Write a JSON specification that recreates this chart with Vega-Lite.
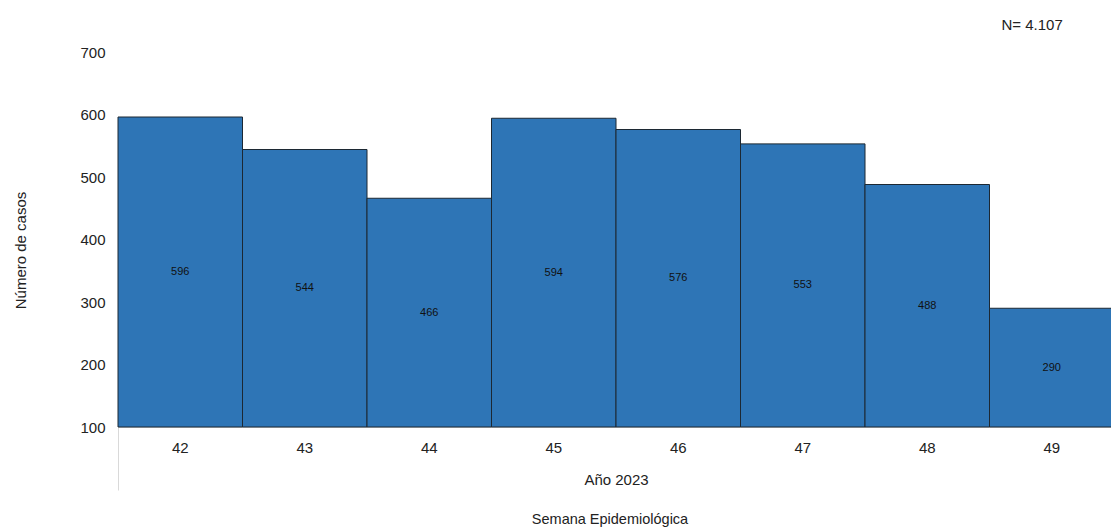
{
  "$schema": "https://vega.github.io/schema/vega-lite/v6.json",
  "autosize": "none",
  "padding": {"left": 118, "top": 52, "right": 0, "bottom": 102},
  "width": 996,
  "height": 375,
  "background": "white",
  "config": {
    "view": {"stroke": null},
    "font": "Liberation Sans",
    "axis": {"labelFont": "Liberation Sans", "titleFont": "Liberation Sans", "labelColor": "#222", "titleColor": "#222", "grid": false}
  },
  "title": {"text": "Semana Epidemiológica", "orient": "bottom", "anchor": "middle", "fontSize": 14.5, "fontWeight": "normal", "color": "#222", "font": "Liberation Sans", "offset": 22, "dx": -6},
  "data": {"values": [
    {"semana": "42", "casos": 596},
    {"semana": "43", "casos": 544},
    {"semana": "44", "casos": 466},
    {"semana": "45", "casos": 594},
    {"semana": "46", "casos": 576},
    {"semana": "47", "casos": 553},
    {"semana": "48", "casos": 488},
    {"semana": "49", "casos": 290}
  ]},
  "encoding": {
    "x": {"field": "semana", "type": "nominal", "scale": {"paddingInner": 0, "paddingOuter": 0},
      "axis": {"title": "Año 2023", "labelAngle": 0, "labelFontSize": 15, "titleFontSize": 15, "titleFontWeight": "normal", "labelPadding": -50, "titleY": 45, "titleBaseline": "top",
        "domain": true, "domainColor": "#d9d9d9", "ticks": true, "bandPosition": 0, "tickSize": 63,
        "tickColor": {"condition": {"test": "datum.value == '42'", "value": "#d9d9d9"}, "value": "transparent"}}}
  },
  "layer": [
    {
      "mark": {"type": "bar", "fill": "#2E75B6", "stroke": "#1c2833", "strokeWidth": 1},
      "encoding": {
        "y": {"field": "casos", "type": "quantitative", "scale": {"domain": [100, 700], "zero": false},
          "axis": {"title": "Número de casos", "values": [100, 200, 300, 400, 500, 600, 700], "domain": false, "ticks": false, "labelFontSize": 15, "labelPadding": 13, "titleFontSize": 15, "titleFontWeight": "normal", "titlePadding": 51, "titleY": 198}},
        "y2": {"datum": 100}
      }
    },
    {
      "transform": [{"calculate": "(datum.casos + 100) / 2", "as": "mid"}],
      "mark": {"type": "text", "fontSize": 11, "color": "#111", "baseline": "middle"},
      "encoding": {
        "y": {"field": "mid", "type": "quantitative"},
        "text": {"field": "casos", "type": "quantitative"}
      }
    },
    {
      "data": {"values": [{"semana": "49", "casos": 743, "label": "N= 4.107"}]},
      "mark": {"type": "text", "fontSize": 15, "color": "#222", "align": "right", "dx": 11, "baseline": "middle"},
      "encoding": {
        "y": {"field": "casos", "type": "quantitative"},
        "text": {"field": "label"}
      }
    }
  ]
}
